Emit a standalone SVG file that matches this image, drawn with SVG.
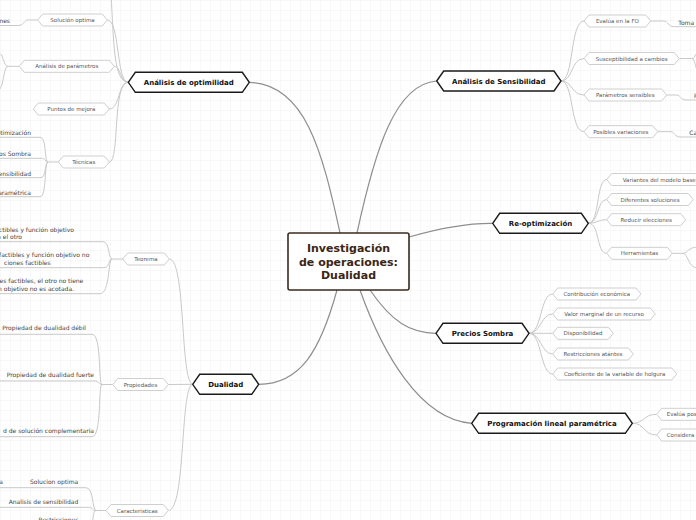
<svg xmlns="http://www.w3.org/2000/svg" width="696" height="520" viewBox="0 0 696 520">
<defs>
<pattern id="grid" width="10" height="10" patternUnits="userSpaceOnUse">
<path d="M10 0 L0 0 0 10" fill="none" stroke="#efefef" stroke-width="0.8"/>
</pattern>
<style>
.main polygon{fill:#fff;stroke:#1a1a1a;stroke-width:1.4}
.main text{font-family:"DejaVu Sans",Verdana,sans-serif;font-weight:bold;font-size:7px;fill:#111;text-anchor:middle}
.sub polygon{fill:#fff;stroke:#cfcfcf;stroke-width:1}
.sub text{font-family:"DejaVu Sans",Verdana,sans-serif;font-size:5.5px;fill:#555;text-anchor:middle}
.sub text.s{text-anchor:start}
.leaf text{font-family:"DejaVu Sans",Verdana,sans-serif;font-size:6px;fill:#444;text-anchor:end}
.leaf text.s{text-anchor:start}
.c1 path{fill:none;stroke:#8e8e8e;stroke-width:1.2}
.c2 path{fill:none;stroke:#c9c9c9;stroke-width:1}
.center rect{fill:#fff;stroke:#3b2a1e;stroke-width:1.6}
.center text{font-family:"DejaVu Sans",Verdana,sans-serif;font-weight:bold;font-size:11px;fill:#3b2616;text-anchor:middle}
</style>
</defs>
<rect width="696" height="520" fill="#fff"/>
<rect width="696" height="520" fill="url(#grid)"/>

<g id="connectors">
<g class="c1">
<path d="M340 233 C322 150 305 84 249.3 82.3"/>
<path d="M357 233 C375 150 395 84 436.7 81"/>
<path d="M409 237 C440 228 465 223 492.7 223.3"/>
<path d="M370 290 C392 322 410 333 436 333.3"/>
<path d="M360 290 C382 352 420 420 471.7 423.3"/>
<path d="M337 290 C320 352 300 384 258.7 384.3"/>
</g>
<g class="c2">
<!-- optimilidad -->
<path d="M128.3 82.3 C113 82 114 40 111 -5"/>
<path d="M128.3 82.3 C116 82 120 20 107.3 20"/>
<path d="M128.3 82.3 C120 82 121 66.3 114.3 66.3"/>
<path d="M128.3 82.3 C118 82 120 109 109.3 109"/>
<path d="M128.3 82.3 C112 82 120 162 109.3 162"/>
<path d="M37.7 20 L28 20 C24 20 24 25.5 18 25.5 L0 25.5"/>
<path d="M19.3 66.3 L8 66.3 C3 66.3 4 53 -2 53"/>
<path d="M8 66.3 C3 66.3 4 90 -2 90"/>
<path d="M58.3 162 L48 162 C44 162 47 137.3 40 137.3 L0 137.3"/>
<path d="M48 162 C45 162 46 158.3 41 158.3 L0 158.3"/>
<path d="M48 162 C45 162 46 177.7 41 177.7 L0 177.7"/>
<path d="M48 162 C44 162 47 196.7 40 196.7 L0 196.7"/>
<!-- sensibilidad -->
<path d="M561 81 C574 81 570 21 584 21"/>
<path d="M561 81 C573 81 571 58.5 584 58.5"/>
<path d="M561 81 C573 81 571 95 584 95"/>
<path d="M561 81 C574 81 570 131.7 584 131.7"/>
<path d="M650.7 21 L664 21 C668 21 668 26.7 674 26.7 L696 26.7"/>
<path d="M679.3 58.5 L692 58.5 C695 58.5 695 54 698 52"/>
<path d="M692 58.5 C695 58.5 695 68 698 71"/>
<path d="M666.7 95 L677 95 C680 95 681 100 686 100 L696 100"/>
<path d="M657.7 131.7 L671 131.7 C674 131.7 675 137 680 137 L696 137"/>
<!-- re-optimizacion -->
<path d="M588.3 223.3 C600 223 596 179.5 606.7 179.5"/>
<path d="M588.3 223.3 C599 223 597 199.5 606.7 199.5"/>
<path d="M588.3 223.3 C598 223 598 219.7 606.7 219.7"/>
<path d="M588.3 223.3 C600 223 596 253.3 606.7 253.3"/>
<path d="M672.3 253.3 L683 253.3 C688 253.3 688 247 698 247"/>
<path d="M683 253.3 C688 253.3 688 268 698 268"/>
<!-- precios -->
<path d="M529 333.3 C542 333 540 294 552.7 294"/>
<path d="M529 333.3 C541 333 541 314 552.7 314"/>
<path d="M529 333.3 L552.7 333.3"/>
<path d="M529 333.3 C541 333 541 354 552.7 354"/>
<path d="M529 333.3 C542 333 540 374 552.7 374"/>
<!-- programacion -->
<path d="M632.3 423.3 C645 423 643 414.3 656.7 414.3"/>
<path d="M632.3 423.3 C645 423 643 435 656.7 435"/>
<!-- dualidad -->
<path d="M192.7 384.3 C180 382 186 259 169.3 259"/>
<path d="M192.7 384.3 L168.3 384.5"/>
<path d="M192.7 384.3 C180 386 186 510.5 168.3 510.5"/>
<path d="M122.7 259 L112 259 C108 259 110 241.7 103 241.7 L0 241.7"/>
<path d="M112 259 C108 259 110 267.7 104 267.7 L0 267.7"/>
<path d="M112 259 C108 259 110 293.7 100 293.7 L0 293.7"/>
<path d="M112.7 384.5 L102 384.5 C98 384.5 102 334.3 92 334.3 L0 334.3"/>
<path d="M102 384.5 C99 384.5 99 381 94 381 L0 381"/>
<path d="M102 384.5 C98 384.5 102 436.7 92 436.7 L0 436.7"/>
<path d="M106 510.5 L96 510.5 C92 510.5 94 487.7 86 487.7 L0 487.7"/>
<path d="M96 510.5 C92 510.5 93 507.3 88 507.3 L0 507.3"/>
<path d="M96 510.5 C92 510.5 94 522 91 530"/>
</g>
</g>

<g id="center" class="center">
<rect x="288" y="233" width="121" height="57" rx="2"/>
<text x="348.5" y="252">Investigación</text>
<text x="348.5" y="265.5">de operaciones:</text>
<text x="348.5" y="279">Dualidad</text>
</g>

<g id="n-optimilidad" class="main"><polygon points="128.3,82.3 135.3,72.3 242.3,72.3 249.3,82.3 242.3,92.3 135.3,92.3"/><text x="188.8" y="84.8">Análisis de optimilidad</text></g>
<g id="n-sensibilidad" class="main"><polygon points="436.7,81 443.7,71 554,71 561,81 554,91 443.7,91"/><text x="498.8" y="83.5">Análisis de Sensibilidad</text></g>
<g id="n-reopt" class="main"><polygon points="492.7,223.3 499.7,213.3 581.3,213.3 588.3,223.3 581.3,233.3 499.7,233.3"/><text x="540.5" y="225.8">Re-optimización</text></g>
<g id="n-precios" class="main"><polygon points="436,333.3 443,323.3 522,323.3 529,333.3 522,343.3 443,343.3"/><text x="482.5" y="335.8">Precios Sombra</text></g>
<g id="n-plp" class="main"><polygon points="471.7,423.3 478.7,413.3 625.3,413.3 632.3,423.3 625.3,433.3 478.7,433.3"/><text x="552" y="425.8">Programación lineal paramétrica</text></g>
<g id="n-dualidad" class="main"><polygon points="192.7,384.3 199.7,374.3 251.7,374.3 258.7,384.3 251.7,394.3 199.7,394.3"/><text x="225.7" y="386.8">Dualidad</text></g>

<g id="n-solopt" class="sub"><polygon points="37.7,20 42.7,14 102.3,14 107.3,20 102.3,26 42.7,26"/><text x="72.5" y="22">Solución optima</text></g>
<g id="n-anpar" class="sub"><polygon points="19.3,66.3 24.3,60.3 109.3,60.3 114.3,66.3 109.3,72.3 24.3,72.3"/><text x="66.8" y="68.3">Análisis de parámetros</text></g>
<g id="n-puntos" class="sub"><polygon points="33.3,109 38.3,103 104.3,103 109.3,109 104.3,115 38.3,115"/><text x="71.3" y="111">Puntos de mejora</text></g>
<g id="n-tecnicas" class="sub"><polygon points="58.3,162 63.3,156 104.3,156 109.3,162 104.3,168 63.3,168"/><text x="83.8" y="164">Técnicas</text></g>
<g id="n-teorema" class="sub"><polygon points="122.7,259 127.7,253 164.3,253 169.3,259 164.3,265 127.7,265"/><text x="146" y="261">Teorema</text></g>
<g id="n-propiedades" class="sub"><polygon points="112.7,384.5 117.7,378.5 163.3,378.5 168.3,384.5 163.3,390.5 117.7,390.5"/><text x="140.5" y="386.5">Propiedades</text></g>
<g id="n-caract" class="sub"><polygon points="106,510.5 111,504.5 163.3,504.5 168.3,510.5 163.3,516.5 111,516.5"/><text x="137.2" y="512.5">Caracteristicas</text></g>

<g id="n-evalua" class="sub"><polygon points="584,21 589,15 645.7,15 650.7,21 645.7,27 589,27"/><text x="617.4" y="23">Evalúa en la FO</text></g>
<g id="n-suscep" class="sub"><polygon points="584,58.5 589,52.5 674.3,52.5 679.3,58.5 674.3,64.5 589,64.5"/><text x="631.7" y="60.5">Susceptibilidad a cambios</text></g>
<g id="n-paramsens" class="sub"><polygon points="584,95 589,89 661.7,89 666.7,95 661.7,101 589,101"/><text x="625.3" y="97">Parámetros sensibles</text></g>
<g id="n-posibles" class="sub"><polygon points="584,131.7 589,125.7 652.7,125.7 657.7,131.7 652.7,137.7 589,137.7"/><text x="620.8" y="133.7">Posibles variaciones</text></g>

<g id="n-variantes" class="sub"><polygon points="606.7,179.5 611.7,173.5 705,173.5 710,179.5 705,185.5 611.7,185.5"/><text class="s" x="622.7" y="181.5">Variantes del modelo base</text></g>
<g id="n-diferentes" class="sub"><polygon points="606.7,199.5 611.7,193.5 688.3,193.5 693.3,199.5 688.3,205.5 611.7,205.5"/><text x="650" y="201.5">Diferentes soluciones</text></g>
<g id="n-reducir" class="sub"><polygon points="606.7,219.7 611.7,213.7 680.7,213.7 685.7,219.7 680.7,225.7 611.7,225.7"/><text x="646.2" y="221.7">Reducir elecciones</text></g>
<g id="n-herram" class="sub"><polygon points="606.7,253.3 611.7,247.3 667.3,247.3 672.3,253.3 667.3,259.3 611.7,259.3"/><text x="639.5" y="255.3">Herramientas</text></g>

<g id="n-contrib" class="sub"><polygon points="552.7,294 557.7,288 636,288 641,294 636,300 557.7,300"/><text x="596.8" y="296">Contribución económica</text></g>
<g id="n-valor" class="sub"><polygon points="552.7,314 557.7,308 650.3,308 655.3,314 650.3,320 557.7,320"/><text x="604" y="316">Valor marginal de un recurso</text></g>
<g id="n-dispon" class="sub"><polygon points="552.7,333.3 557.7,327.3 608.3,327.3 613.3,333.3 608.3,339.3 557.7,339.3"/><text x="583" y="335.3">Disponibilidad</text></g>
<g id="n-restric" class="sub"><polygon points="552.7,354 557.7,348 628.3,348 633.3,354 628.3,360 557.7,360"/><text x="593" y="356">Restricciones atántes</text></g>
<g id="n-coef" class="sub"><polygon points="552.7,374 557.7,368 671.7,368 676.7,374 671.7,380 557.7,380"/><text x="614.7" y="376">Coeficiente de la variable de holgura</text></g>

<g id="n-evpos" class="sub"><polygon points="656.7,414.3 661.7,408.3 715,408.3 720,414.3 715,420.3 661.7,420.3"/><text class="s" x="666.7" y="416.3">Evalúa pos</text></g>
<g id="n-considera" class="sub"><polygon points="656.7,435 661.7,429 715,429 720,435 715,441 661.7,441"/><text class="s" x="666.7" y="437">Considera</text></g>

<g id="leaves" class="leaf">
<text x="10" y="22.5">nes</text>
<text x="31" y="135.3">ptimización</text>
<text x="31" y="156.3">ios Sombra</text>
<text x="31" y="175.7">Sensibilidad</text>
<text x="31" y="194.7">paramétrica</text>
<text x="74" y="231.5">factibles y función objetivo</text>
<text x="22" y="239">n el otro</text>
<text x="89.3" y="257">es factibles y función objetivo no</text>
<text x="50.7" y="264.5">ciones factibles</text>
<text x="83.3" y="283">ones factibles, el otro  no tiene</text>
<text x="74" y="290.5">ón objetivo no es acotada.</text>
<text x="86" y="330">Propiedad de dualidad débil</text>
<text x="94" y="377">Propiedad de dualidad fuerte</text>
<text x="94" y="432.7">d de solución complementaria</text>
<text x="3" y="483.5">a</text>
<text x="78.3" y="483.5">Solucion optima</text>
<text x="78.3" y="503.5">Analisis de sensibilidad</text>
<text x="78.3" y="521.5">Restricciones</text>
<text class="s" x="678.3" y="24.5">Toma d</text>
<text class="s" x="694" y="97.5">P</text>
<text class="s" x="689.3" y="134.5">Ca</text>
</g>
</svg>
